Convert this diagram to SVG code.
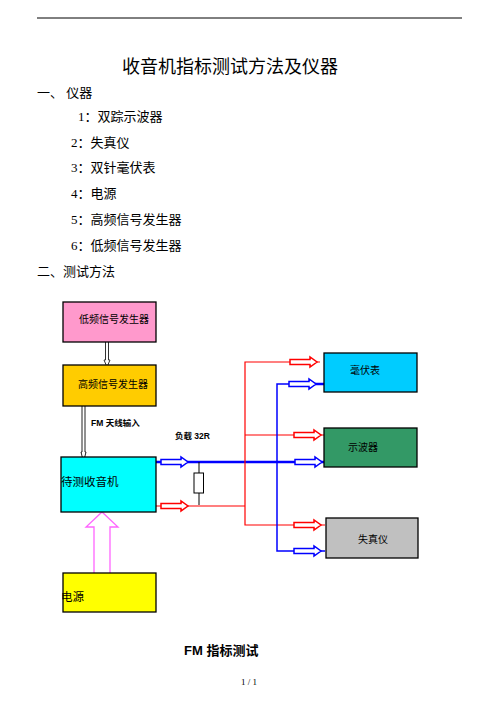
<svg xmlns="http://www.w3.org/2000/svg" width="496" height="702" viewBox="0 0 496 702">
<style>
.t{font-family:"Liberation Serif","Noto Sans CJK SC",serif;fill:#000}
.s{font-family:"Liberation Sans","Noto Sans CJK SC",sans-serif;fill:#000}
.b{stroke:#000;stroke-width:1.3}
.ab{fill:#fff;stroke:#0000ff;stroke-width:1.5}
.ar{fill:#fff;stroke:#ff0000;stroke-width:1.5}
.lb{fill:none;stroke:#0000ff}
.lr{fill:none;stroke:#ff0000;stroke-width:1.2}
</style>
<defs>
<path id="ha" d="M0,-2.5 H20 V-5 L27,0 L20,5 V2.5 H0 Z"/>
</defs>
<rect width="496" height="702" fill="#fff"/>
<line x1="37" y1="18" x2="462" y2="18" stroke="#000" stroke-width="1"/>
<text class="t" x="230" y="73" font-size="18" text-anchor="middle">收音机指标测试方法及仪器</text>
<text class="t" x="37" y="97" font-size="13">一、 仪器</text>
<text class="t" x="78" y="121" font-size="13">1：双踪示波器</text>
<text class="t" x="71" y="147" font-size="13">2：失真仪</text>
<text class="t" x="71" y="172" font-size="13">3：双针毫伏表</text>
<text class="t" x="71" y="198" font-size="13">4：电源</text>
<text class="t" x="71" y="224" font-size="13">5：高频信号发生器</text>
<text class="t" x="71" y="250" font-size="13">6：低频信号发生器</text>
<text class="t" x="37" y="276" font-size="13">二、测试方法</text>

<g id="connectors">
<path d="M105.5,342 V360 H104 L107,367 L110,360 H108.5 V342" fill="#fff" stroke="#333" stroke-width="1"/>
<path d="M82,406 V452 H81 L83.5,462 L86,452 H85 V406" fill="#fff" stroke="#222" stroke-width="1"/>
<path d="M94,573 V527 H86 L102,512 L118,527 H110 V573" fill="#fff" stroke="#ff66ff" stroke-width="1.3"/>
<line class="lb" x1="156" y1="462" x2="325" y2="462" stroke-width="2.5"/>
<line class="lr" x1="156" y1="506" x2="245" y2="506"/>
<line x1="199" y1="462" x2="199" y2="505" stroke="#000" stroke-width="1"/>
<rect x="194" y="473" width="9.5" height="20" fill="#fff" stroke="#000" stroke-width="1"/>
<path class="lr" d="M320,362 H245 V525 H325 M245,435 H325"/>
<path class="lb" d="M325,384 H277 V551 H325" stroke-width="1.5"/>
<line class="lb" x1="310" y1="384" x2="325" y2="384" stroke-width="2.5"/>
<use href="#ha" class="ab" x="161" y="462"/>
<use href="#ha" class="ar" x="161" y="506"/>
<use href="#ha" class="ar" x="290" y="362"/>
<use href="#ha" class="ab" x="289" y="384"/>
<use href="#ha" class="ar" x="294" y="435"/>
<use href="#ha" class="ab" x="295" y="462"/>
<use href="#ha" class="ar" x="294" y="525"/>
<use href="#ha" class="ab" x="294" y="551"/>
</g>

<g id="lowgen"><rect class="b" x="63" y="302" width="93" height="40" fill="#ff99cc"/><text class="s" x="79" y="323" font-size="10">低频信号发生器</text></g>
<g id="highgen"><rect class="b" x="63" y="365" width="93" height="41" fill="#ffcc00"/><text class="s" x="78" y="388" font-size="10">高频信号发生器</text></g>
<g id="fmlabel"><text class="s" x="91" y="426" font-size="8.5" font-weight="bold">FM 天线输入</text></g>
<g id="loadlabel"><text class="s" x="175" y="439" font-size="8.5" font-weight="bold">负载 32R</text></g>
<g id="receiver"><rect class="b" x="61" y="457" width="95" height="55" fill="#00ffff"/><text class="s" x="61" y="486" font-size="11.5">待测收音机</text></g>
<g id="power"><rect class="b" x="63" y="573" width="93" height="39" fill="#ffff00"/><text class="s" x="61" y="601" font-size="11.5">电源</text></g>
<g id="mv"><rect class="b" x="324" y="353" width="93" height="39" fill="#00ccff"/><text class="s" x="365" y="374" font-size="10" text-anchor="middle">毫伏表</text></g>
<g id="osc"><rect class="b" x="324" y="428" width="93" height="39" fill="#339966"/><text class="s" x="363" y="451" font-size="10" text-anchor="middle">示波器</text></g>
<g id="dist"><rect class="b" x="326" y="518" width="92" height="40" fill="#c0c0c0"/><text class="s" x="373" y="543" font-size="10" text-anchor="middle">失真仪</text></g>

<text class="s" x="184" y="655" font-size="13" font-weight="bold">FM 指标测试</text>
<text class="t" x="249" y="685" font-size="9" text-anchor="middle">1 / 1</text>
</svg>
